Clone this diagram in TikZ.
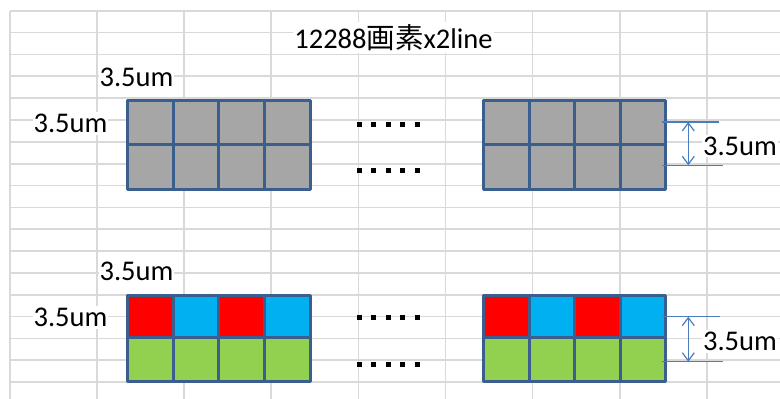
\documentclass[tikz,border=0pt]{standalone}
\usepackage{fontspec}
\setmainfont{Carlito}
\newfontfamily\cjkfont{Noto Sans CJK JP}
\usetikzlibrary{arrows.meta}
\definecolor{gridc}{HTML}{D9D9D9}
\definecolor{bordc}{HTML}{3A5F8E}
\definecolor{cgray}{HTML}{A6A6A6}
\definecolor{cred}{HTML}{FF0000}
\definecolor{cblue}{HTML}{00B0F0}
\definecolor{cgreen}{HTML}{92D050}
\definecolor{dimc}{HTML}{4A7EBB}
\tikzset{
  gridline/.style={draw=gridc, line width=1.7pt},
  cellbox/.style={rectangle, draw=bordc, line width=3pt, line join=round,
    inner sep=0pt, outer sep=0pt, minimum width=45.6pt},
  toprow/.style={cellbox, minimum height=44.35pt},
  redrow/.style={cellbox, minimum height=42.2pt},
  grnrow/.style={cellbox, minimum height=43.8pt},
  lbl/.style={font=\fontsize{28.5}{32}\selectfont, fill=white, inner xsep=1pt,
    inner ysep=2pt, anchor=base},
  dotsq/.style={rectangle, fill=black, inner sep=0pt, minimum size=5pt},
  dimline/.style={draw=dimc, line width=1.2pt},
  dimarrow/.style={draw=dimc, line width=1.2pt,
    {Straight Barb[length=8pt,width=12pt]}-{Straight Barb[length=8pt,width=12pt]}}
}
\begin{document}
\begin{tikzpicture}[x=1pt,y=-1pt]
\useasboundingbox (0,0) rectangle (780,399);
\fill[white] (0,0) rectangle (780,399);
% spreadsheet grid
\foreach \k in {0,...,17} \draw[gridline] (10,{10.7+21.85*\k}) -- (780,{10.7+21.85*\k});
\foreach \k in {0,...,8} \draw[gridline] ({10+87.1*\k},10.7) -- ({10+87.1*\k},399);
% top gray blocks
\foreach \i in {0,1,2,3} {
  \node[toprow, fill=cgray] (gla\i) at ({127.5+45.7*(\i+0.5)},122.7) {};
  \node[toprow, fill=cgray] (glb\i) at ({127.5+45.7*(\i+0.5)},167.05) {};
  \node[toprow, fill=cgray] (gra\i) at ({483.8+45.5*(\i+0.5)},122.7) {};
  \node[toprow, fill=cgray] (grb\i) at ({483.8+45.5*(\i+0.5)},167.05) {};
}
% bottom colour blocks
\foreach \i/\c in {0/cred,1/cblue,2/cred,3/cblue} {
  \node[redrow, fill=\c] (cla\i) at ({127.5+45.7*(\i+0.5)},316.3) {};
  \node[grnrow, fill=cgreen] (clb\i) at ({127.5+45.7*(\i+0.5)},359.3) {};
  \node[redrow, fill=\c] (cra\i) at ({483.8+45.5*(\i+0.5)},316.3) {};
  \node[grnrow, fill=cgreen] (crb\i) at ({483.8+45.5*(\i+0.5)},359.3) {};
}
% dots
\foreach \i in {0,...,4} {
  \node[dotsq] (da\i) at ({359+14.5*\i},124) {};
  \node[dotsq] (db\i) at ({359+14.5*\i},170) {};
  \node[dotsq] (dc\i) at ({359+14.5*\i},317.3) {};
  \node[dotsq] (dd\i) at ({359+14.5*\i},364) {};
}
% dimension lines top
\coordinate (t1a) at (662,122);   \coordinate (t1b) at (719,122);
\coordinate (t2a) at (662,165.3); \coordinate (t2b) at (722.7,165.3);
\coordinate (tva) at (688.3,122); \coordinate (tvb) at (688.3,165.3);
\draw[dimline] (t1a) -- (t1b);
\draw[dimline] (t2a) -- (t2b);
\draw[dimarrow] (tva) -- (tvb);
% dimension lines bottom
\coordinate (b1a) at (661.7,316.7); \coordinate (b1b) at (720,316.7);
\coordinate (b2a) at (661.7,361.7); \coordinate (b2b) at (722.7,361.7);
\coordinate (bva) at (688.3,316.7); \coordinate (bvb) at (688.3,361.7);
\draw[dimline] (b1a) -- (b1b);
\draw[dimline] (b2a) -- (b2b);
\draw[dimarrow] (bva) -- (bvb);
% labels
\node[lbl] (title) at (393.5,48.3) {12288{\cjkfont 画素}x2line};
\node[lbl] (lt1) at (136.5,86.7) {3.5um};
\node[lbl] (ll1) at (70.5,132.7) {3.5um};
\node[lbl] (lr1) at (740,155) {3.5um};
\node[lbl] (lt2) at (136.5,280.7) {3.5um};
\node[lbl] (ll2) at (70.5,326.7) {3.5um};
\node[lbl] (lr2) at (740,350.7) {3.5um};
\end{tikzpicture}
\end{document}
